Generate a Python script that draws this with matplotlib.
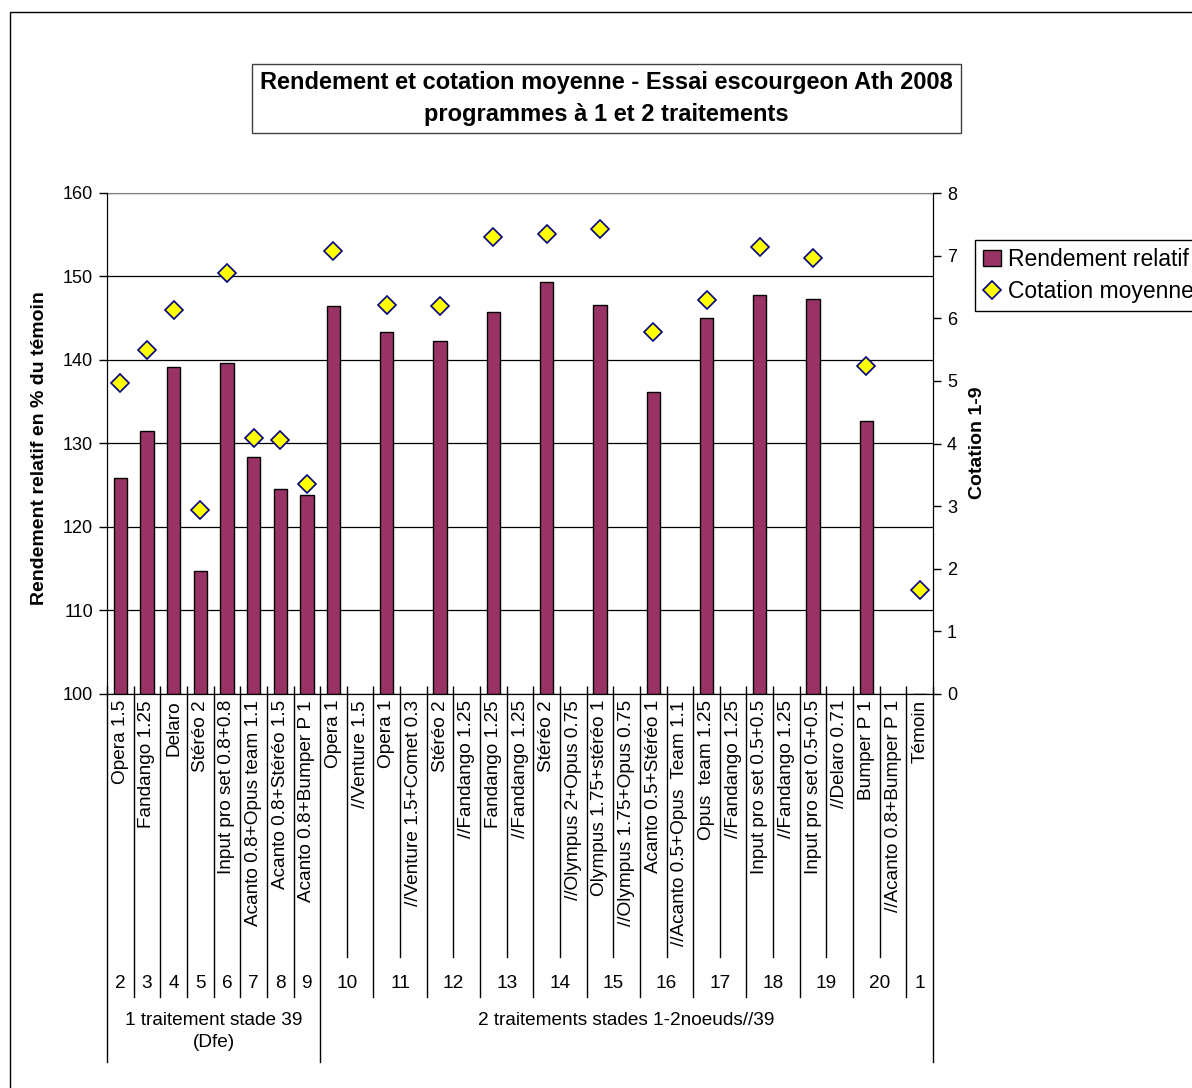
import numpy as np
import matplotlib
matplotlib.use('Agg')
from matplotlib import pyplot as plt
from matplotlib import transforms
from matplotlib.patches import Patch, Rectangle
from matplotlib.lines import Line2D

plt.rcParams['font.family'] = ['Liberation Sans', 'DejaVu Sans']

labels = ['Opera 1.5', 'Fandango 1.25', 'Delaro', 'Stéréo 2',
          'Input pro set 0.8+0.8', 'Acanto 0.8+Opus team 1.1',
          'Acanto 0.8+Stéréo 1.5', 'Acanto 0.8+Bumper P 1',
          'Opera 1', '//Venture 1.5',
          'Opera 1', '//Venture 1.5+Comet 0.3',
          'Stéréo 2', '//Fandango 1.25',
          'Fandango 1.25', '//Fandango 1.25',
          'Stéréo 2', '//Olympus 2+Opus 0.75',
          'Olympus 1.75+stéréo 1', '//Olympus 1.75+Opus 0.75',
          'Acanto 0.5+Stéréo 1', '//Acanto 0.5+Opus  Team 1.1',
          'Opus  team 1.25', '//Fandango 1.25',
          'Input pro set 0.5+0.5', '//Fandango 1.25',
          'Input pro set 0.5+0.5', '//Delaro 0.71',
          'Bumper P 1', '//Acanto 0.8+Bumper P 1',
          'Témoin']
nan = np.nan
rendement = [125.9, 131.5, 139.2, 114.7, 139.6, 128.4, 124.6, 123.8,
             146.5, nan, 143.4, nan, 142.3, nan, 145.8, nan,
             149.4, nan, 146.6, nan, 136.2, nan, 145.0, nan,
             147.8, nan, 147.3, nan, 132.7, nan, 100.0]
cotation = [4.97, 5.50, 6.13, 2.94, 6.72, 4.09, 4.06, 3.36,
            7.08, nan, 6.21, nan, 6.19, nan, 7.30, nan,
            7.35, nan, 7.42, nan, 5.78, nan, 6.29, nan,
            7.14, nan, 6.97, nan, 5.24, nan, 1.66]
groups = ['2', '3', '4', '5', '6', '7', '8', '9', '10', '11', '12', '13',
          '14', '15', '16', '17', '18', '19', '20', '1']
group_sizes = [1] * 8 + [2] * 11 + [1]
stages = ['1 traitement stade 39\n(Dfe)', '2 traitements stades 1-2noeuds//39']
stage_sizes = [8, 23]

W, H = 1192, 1088
fs = 13.7
fig = plt.figure(figsize=(W / 100, H / 100), dpi=100)


def fy(py):
    return 1 - py / H


ax = fig.add_axes([107 / W, fy(694), (933 - 107) / W, (694 - 193) / H])
x = np.arange(len(labels))
vals = np.array(rendement)
ax.bar(x, vals - 100, bottom=100, width=0.5, color='#993366',
       edgecolor='black', linewidth=1, zorder=3)
ax.set_xlim(-0.5, len(labels) - 0.5)
ax.set_ylim(100, 160)
ax.set_yticks(np.arange(100, 161, 10))
ax.grid(axis='y', color='black', linewidth=0.9, zorder=0)
ax.set_xticks(np.arange(len(labels) + 1) - 0.5)
ax.set_xticklabels([])
ax.tick_params(axis='x', direction='in', length=6, width=1)
ax.tick_params(axis='y', direction='out', length=6, width=1, labelsize=13, pad=4)
ax.spines['top'].set_color('#808080')
for s in ['left', 'bottom', 'right']:
    ax.spines[s].set_color('black')

ax2 = ax.twinx()
ax2.plot(x, cotation, linestyle='none', marker='D', markersize=9.5,
         markerfacecolor='#FFFF00', markeredgecolor='#000080',
         markeredgewidth=1.2, zorder=4, clip_on=False)
ax2.set_ylim(0, 8)
ax2.set_yticks(np.arange(0, 9, 1))
ax2.tick_params(axis='y', direction='out', length=6, width=1, labelsize=13, pad=4)
ax2.spines['top'].set_visible(False)

# category axis (3 levels)
tr = transforms.blended_transform_factory(ax.transData, fig.transFigure)
for i, lab in enumerate(labels):
    ax.text(i, fy(700), lab, rotation=90, ha='center', va='top',
            fontsize=fs, transform=tr, clip_on=False)

group_edges = np.concatenate([[0], np.cumsum(group_sizes)])
stage_edges = np.concatenate([[0], np.cumsum(stage_sizes)])
for b in range(len(labels) + 1):
    if b in stage_edges:
        yb = 1062
    elif b in group_edges:
        yb = 997
    else:
        yb = 957
    ax.plot([b - 0.5, b - 0.5], [fy(694), fy(yb)], color='black',
            linewidth=1, transform=tr, clip_on=False)

for g, lab in enumerate(groups):
    c = (group_edges[g] + group_edges[g + 1] - 1) / 2
    ax.text(c, fy(983), lab, ha='center', va='center', fontsize=fs,
            transform=tr, clip_on=False)

for s, lab in enumerate(stages):
    c = (stage_edges[s] + stage_edges[s + 1] - 1) / 2
    ax.text(c, fy(1012), lab, ha='center', va='top', fontsize=fs,
            linespacing=1.4, transform=tr, clip_on=False)

fig.text(40 / W, fy(448), 'Rendement relatif en % du témoin', rotation=90,
         ha='center', va='center', fontsize=14, fontweight='bold')
fig.text(978 / W, fy(443), 'Cotation 1-9', rotation=90,
         ha='center', va='center', fontsize=14, fontweight='bold')

fig.text(606.5 / W, fy(98.5),
         'Rendement et cotation moyenne - Essai escourgeon Ath 2008\n'
         'programmes à 1 et 2 traitements',
         ha='center', va='center', fontsize=17, fontweight='bold',
         linespacing=1.45,
         bbox=dict(boxstyle='square,pad=0.33', facecolor='white',
                   edgecolor='#404040', linewidth=1))

handles = [Patch(facecolor='#993366', edgecolor='black', linewidth=1),
           Line2D([], [], linestyle='none', marker='D', markersize=9,
                  markerfacecolor='#FFFF00', markeredgecolor='#000080',
                  markeredgewidth=1.2)]
fig.legend(handles, ['Rendement relatif', 'Cotation moyenne'],
           loc='upper left', bbox_to_anchor=(975 / W, fy(240)),
           fontsize=16.5, frameon=True, fancybox=False, edgecolor='black',
           borderpad=0.35, labelspacing=0.4, handlelength=0.8,
           handletextpad=0.3, borderaxespad=0, framealpha=1)

fig.add_artist(Rectangle((10 / W, -0.05), 1.2, fy(12) + 0.05,
                         transform=fig.transFigure, fill=False,
                         edgecolor='black', linewidth=1))

fig.savefig('out.png', dpi=100)
